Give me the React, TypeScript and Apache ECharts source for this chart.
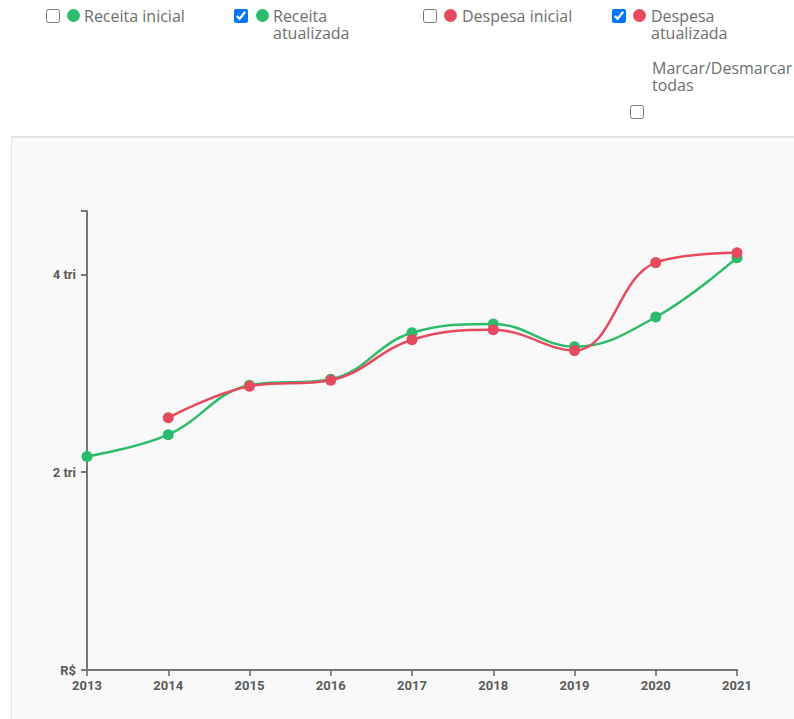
import React, { useEffect, useRef, useState } from "react";
import * as echarts from "echarts";

// ---- data ----
const years = ["2013", "2014", "2015", "2016", "2017", "2018", "2019", "2020", "2021"];
const receitaAtualizada = [2.16, 2.38, 2.88, 2.94, 3.41, 3.5, 3.27, 3.57, 4.17];
const despesaAtualizada = [null, 2.55, 2.87, 2.93, 3.34, 3.44, 3.23, 4.12, 4.22];
const yTickValues = [0, 2, 4];
const yTickLabels = ["R$", "2 tri", "4 tri"];
const legendLabels = ["Receita inicial", "Receita atualizada", "Despesa inicial", "Despesa atualizada"];
const legendColors = ["#2bbb6a", "#2bbb6a", "#e64a5e", "#e64a5e"];
const legendChecked = [false, true, false, true];

const GREEN = "#2bbb6a";
const RED = "#e64a5e";

const legendPos = [
  { cb: 46, dot: 67, text: 84, w: 115 },
  { cb: 234, dot: 256, text: 273, w: 115 },
  { cb: 423, dot: 444, text: 462, w: 125 },
  { cb: 612, dot: 633, text: 651, w: 115 },
];

export default function App() {
  const ref = useRef<HTMLDivElement>(null);
  const [checked, setChecked] = useState<boolean[]>(legendChecked);
  const [all, setAll] = useState(false);

  useEffect(() => {
    if (!ref.current) return;
    const chart = echarts.init(ref.current, undefined, { renderer: "svg" });
    const allVals = [...receitaAtualizada, ...despesaAtualizada].filter((v) => v != null) as number[];
    const yMax = Math.max(...allVals) * 1.1;
    const series: any[] = [];
    if (checked[1]) {
      series.push({
        name: legendLabels[1],
        type: "line",
        data: receitaAtualizada,
        smooth: 0.4,
        symbol: "circle",
        symbolSize: 11,
        lineStyle: { color: GREEN, width: 2.5 },
        itemStyle: { color: GREEN },
        z: 2,
      });
    }
    if (checked[3]) {
      series.push({
        name: legendLabels[3],
        type: "line",
        data: despesaAtualizada,
        smooth: 0.4,
        symbol: "circle",
        symbolSize: 11,
        lineStyle: { color: RED, width: 2.5 },
        itemStyle: { color: RED },
        z: 3,
      });
    }
    chart.setOption({
      animation: false,
      grid: { left: 87, right: 57, top: 75, bottom: 49, containLabel: false },
      xAxis: {
        type: "category",
        data: years,
        boundaryGap: false,
        axisLine: { lineStyle: { color: "#777", width: 2 } },
        axisTick: { show: true, length: 6, lineStyle: { color: "#666", width: 1.5 }, alignWithLabel: true },
        axisLabel: {
          margin: 9,
          color: "#5a5a5a",
          fontFamily: "Roboto",
          fontWeight: "bold",
          fontSize: 13,
        },
        splitLine: { show: false },
      },
      yAxis: {
        type: "value",
        min: 0,
        max: yMax,
        interval: 2,
        axisLine: { show: true, lineStyle: { color: "#777", width: 2 } },
        axisTick: { show: true, length: 6, lineStyle: { color: "#777", width: 2 } },
        axisLabel: {
          margin: 11,
          color: "#5a5a5a",
          fontFamily: "Roboto",
          fontWeight: "bold",
          fontSize: 13,
          showMaxLabel: true,
          formatter: (v: number) => {
            const i = yTickValues.findIndex((t) => Math.abs(t - v) < 1e-9);
            return i >= 0 ? yTickLabels[i] : "";
          },
        },
        splitLine: { show: false },
      },
      series,
    });
    return () => chart.dispose();
  }, [checked]);

  const textStyle: React.CSSProperties = {
    position: "absolute",
    fontFamily: "'Open Sans', sans-serif",
    fontSize: 16,
    lineHeight: "17px",
    color: "#6e6e6e",
  };

  return (
    <div style={{ position: "absolute", left: 0, top: 0, width: 794, height: 719, overflow: "hidden", background: "#fff" }}>
      {legendLabels.map((label, i) => (
        <React.Fragment key={label}>
          <input
            type="checkbox"
            checked={checked[i]}
            onChange={() => setChecked((c) => c.map((v, j) => (j === i ? !v : v)))}
            style={{ position: "absolute", left: legendPos[i].cb, top: 9, margin: 0, width: 14, height: 14 }}
          />
          <div
            style={{
              position: "absolute",
              left: legendPos[i].dot,
              top: 9,
              width: 13,
              height: 13,
              borderRadius: "50%",
              background: legendColors[i],
            }}
          />
          <div style={{ ...textStyle, left: legendPos[i].text, top: 8, width: legendPos[i].w }}>{label}</div>
        </React.Fragment>
      ))}
      <div style={{ ...textStyle, left: 652, top: 60, width: 150 }}>Marcar/Desmarcar todas</div>
      <input
        type="checkbox"
        checked={all}
        onChange={() => {
          const nv = !all;
          setAll(nv);
          setChecked([nv, nv, nv, nv]);
        }}
        style={{ position: "absolute", left: 630, top: 105, margin: 0, width: 14, height: 14 }}
      />
      <div
        style={{
          position: "absolute",
          left: 11,
          top: 136,
          width: 783,
          height: 583,
          background: "#f9f9f9",
          borderTop: "2px solid #e2e2e2",
          borderLeft: "1px solid #e6e6e6",
          boxSizing: "border-box",
        }}
      />
      <div ref={ref} style={{ position: "absolute", left: 0, top: 136, width: 794, height: 583 }} />
    </div>
  );
}
